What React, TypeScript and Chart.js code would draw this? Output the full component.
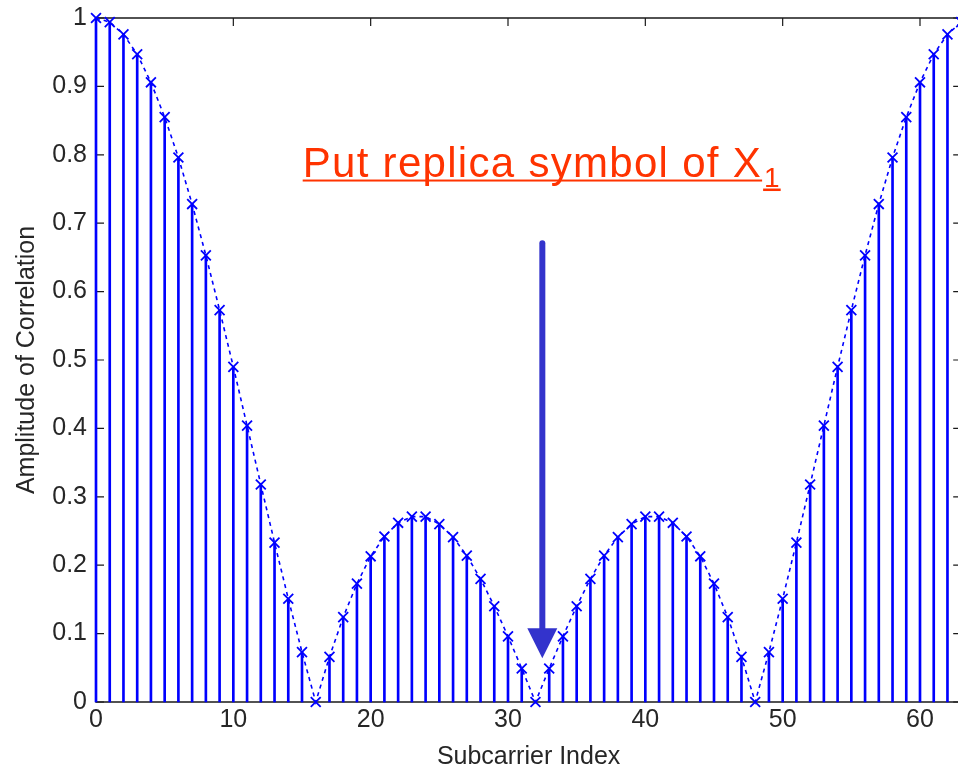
import React, { useEffect, useRef } from 'react';
import { Chart, registerables } from 'chart.js';

Chart.register(...registerables);

// ---- data ----
const subcarrierIndex: number[] = [
  0, 1, 2, 3, 4, 5, 6, 7, 8, 9, 10, 11, 12, 13, 14, 15,
  16, 17, 18, 19, 20, 21, 22, 23, 24, 25, 26, 27, 28, 29, 30, 31,
  32, 33, 34, 35, 36, 37, 38, 39, 40, 41, 42, 43, 44, 45, 46, 47,
  48, 49, 50, 51, 52, 53, 54, 55, 56, 57, 58, 59, 60, 61, 62, 63,
];

const amplitude: number[] = [
  1.0, 0.994, 0.976, 0.947, 0.906, 0.855, 0.796, 0.728,
  0.653, 0.573, 0.49, 0.404, 0.318, 0.233, 0.151, 0.073,
  0.0, 0.066, 0.124, 0.173, 0.213, 0.242, 0.262, 0.271,
  0.271, 0.26, 0.241, 0.214, 0.18, 0.14, 0.096, 0.049,
  0.0, 0.049, 0.096, 0.14, 0.18, 0.214, 0.241, 0.26,
  0.271, 0.271, 0.262, 0.242, 0.213, 0.173, 0.124, 0.066,
  0.0, 0.073, 0.151, 0.233, 0.318, 0.404, 0.49, 0.573,
  0.653, 0.728, 0.796, 0.855, 0.906, 0.947, 0.976, 0.994,
];

const xTickValues: number[] = [0, 10, 20, 30, 40, 50, 60];
const yTickValues: number[] = [0, 0.1, 0.2, 0.3, 0.4, 0.5, 0.6, 0.7, 0.8, 0.9, 1];
const xRange: number[] = [0, 63];
const yRange: number[] = [0, 1];

const xAxisTitle = 'Subcarrier Index';
const yAxisTitle = 'Amplitude of Correlation';

const annotationText = 'Put replica symbol of X';
const annotationSubscript = '1';
const annotationAnchor: number[] = [15.05, 0.7675]; // data coords (x, baseline y)
const arrowX = 32.5;
const arrowYs: number[] = [0.675, 0.108, 0.064]; // shaft top, head base, tip

const FONT = '"Liberation Sans", Arial, Helvetica, sans-serif';
const TEXT_COLOR = '#262626';
const STEM_COLOR = '#0000ff';

const boxPlugin = {
  id: 'matlabBox',
  beforeDatasetsDraw(chart: any) {
    const { ctx, chartArea, scales } = chart;
    const { left, right, top, bottom } = chartArea;
    const xs = scales.x;
    const ys = scales.y;
    ctx.save();
    ctx.strokeStyle = '#1a1a1a';
    ctx.lineWidth = 1.5;
    ctx.beginPath();
    ctx.rect(left, top, right - left, bottom - top);
    ctx.stroke();
    const tl = 8;
    ctx.lineWidth = 1.2;
    ctx.beginPath();
    xs.ticks.forEach((t: any) => {
      const px = xs.getPixelForValue(t.value);
      ctx.moveTo(px, bottom);
      ctx.lineTo(px, bottom - tl);
      ctx.moveTo(px, top);
      ctx.lineTo(px, top + tl);
    });
    ys.ticks.forEach((t: any) => {
      const py = ys.getPixelForValue(t.value);
      ctx.moveTo(left, py);
      ctx.lineTo(left + tl, py);
      ctx.moveTo(right, py);
      ctx.lineTo(right - tl, py);
    });
    ctx.stroke();
    ctx.restore();
  },
};

const annotationPlugin = {
  id: 'replicaAnnotation',
  afterDraw(chart: any) {
    const { ctx, scales } = chart;
    const xs = scales.x;
    const ys = scales.y;
    ctx.save();
    // red underlined label
    const ax = xs.getPixelForValue(annotationAnchor[0]);
    const ay = ys.getPixelForValue(annotationAnchor[1]);
    ctx.fillStyle = '#ff3300';
    ctx.textAlign = 'left';
    ctx.textBaseline = 'alphabetic';
    ctx.font = `42px ${FONT}`;
    (ctx as any).letterSpacing = '1.3px';
    ctx.fillText(annotationText, ax, ay);
    const w = ctx.measureText(annotationText).width;
    ctx.fillRect(ax, ay + 2.5, w, 2);
    ctx.font = `28px ${FONT}`;
    (ctx as any).letterSpacing = '0px';
    const sx = ax + w + 2;
    ctx.fillText(annotationSubscript, sx, ay + 9.5);
    const sw = ctx.measureText(annotationSubscript).width;
    ctx.fillRect(sx - 1, ay + 11.5, sw + 2, 2.5);

    // blue arrow
    const px = xs.getPixelForValue(arrowX);
    const yTop = ys.getPixelForValue(arrowYs[0]);
    const yBase = ys.getPixelForValue(arrowYs[1]);
    const yTip = ys.getPixelForValue(arrowYs[2]);
    ctx.strokeStyle = '#3333cc';
    ctx.fillStyle = '#3333cc';
    ctx.lineWidth = 6;
    ctx.lineCap = 'round';
    ctx.beginPath();
    ctx.moveTo(px, yTop + 3);
    ctx.lineTo(px, yBase + 2);
    ctx.stroke();
    ctx.beginPath();
    ctx.moveTo(px - 15, yBase);
    ctx.lineTo(px + 15, yBase);
    ctx.lineTo(px, yTip);
    ctx.closePath();
    ctx.fill();
    ctx.restore();
  },
};

export default function App() {
  const canvasRef = useRef<HTMLCanvasElement | null>(null);

  useEffect(() => {
    const canvas = canvasRef.current;
    if (!canvas) return;
    const points = subcarrierIndex.map((x, i) => ({ x, y: amplitude[i] }));

    const chart = new Chart(canvas, {
      type: 'bar',
      data: {
        datasets: [
          {
            type: 'line',
            label: 'envelope',
            data: points,
            borderColor: STEM_COLOR,
            borderWidth: 1.6,
            borderDash: [4, 4],
            fill: false,
            tension: 0,
            pointStyle: 'crossRot',
            pointRadius: 7,
            pointBorderWidth: 1.8,
            pointBorderColor: STEM_COLOR,
            pointBackgroundColor: STEM_COLOR,
            clip: false,
            order: 0,
          } as any,
          {
            type: 'bar',
            label: 'stems',
            data: points,
            backgroundColor: STEM_COLOR,
            borderWidth: 0,
            barThickness: 2,
            clip: false,
            order: 1,
          } as any,
        ],
      },
      options: {
        animation: false,
        responsive: false,
        maintainAspectRatio: false,
        devicePixelRatio: 1,
        layout: { padding: { left: 0, top: 18, right: 6.5, bottom: 0 } },
        plugins: {
          legend: { display: false },
          tooltip: { enabled: false },
        },
        scales: {
          x: {
            type: 'linear',
            min: xRange[0],
            max: xRange[1],
            offset: false,
            grid: { display: false, offset: false, drawTicks: false },
            border: { display: false },
            afterBuildTicks: (scale: any) => {
              scale.ticks = xTickValues.map((v) => ({ value: v }));
            },
            afterFit: (scale: any) => {
              scale.height = 72;
              scale.paddingLeft = 0;
              scale.paddingRight = 0;
            },
            ticks: {
              padding: 3,
              color: TEXT_COLOR,
              font: { family: FONT, size: 25 },
              maxRotation: 0,
              callback: (v: any) => String(v),
            },
            title: {
              display: true,
              text: xAxisTitle,
              color: TEXT_COLOR,
              font: { family: FONT, size: 25 },
              padding: { top: 0, bottom: 2 },
            },
          },
          y: {
            type: 'linear',
            min: yRange[0],
            max: yRange[1],
            grid: { display: false, drawTicks: false },
            border: { display: false },
            afterBuildTicks: (scale: any) => {
              scale.ticks = yTickValues.map((v) => ({ value: v }));
            },
            afterFit: (scale: any) => {
              scale.width = 96;
              scale.paddingTop = 0;
              scale.paddingBottom = 0;
            },
            ticks: {
              padding: 9,
              color: TEXT_COLOR,
              font: { family: FONT, size: 25 },
              callback: (v: any) => String(Number(Number(v).toFixed(1))),
            },
            title: {
              display: true,
              text: yAxisTitle,
              color: TEXT_COLOR,
              font: { family: FONT, size: 25 },
              padding: { top: 12, bottom: 0 },
            },
          },
        },
      } as any,
      plugins: [boxPlugin, annotationPlugin],
    });

    return () => chart.destroy();
  }, []);

  return (
    <div
      style={{
        position: 'fixed',
        left: 0,
        top: 0,
        width: 958,
        height: 774,
        overflow: 'hidden',
        background: '#ffffff',
      }}
    >
      <canvas ref={canvasRef} width={970} height={774} style={{ display: 'block' }} />
    </div>
  );
}
